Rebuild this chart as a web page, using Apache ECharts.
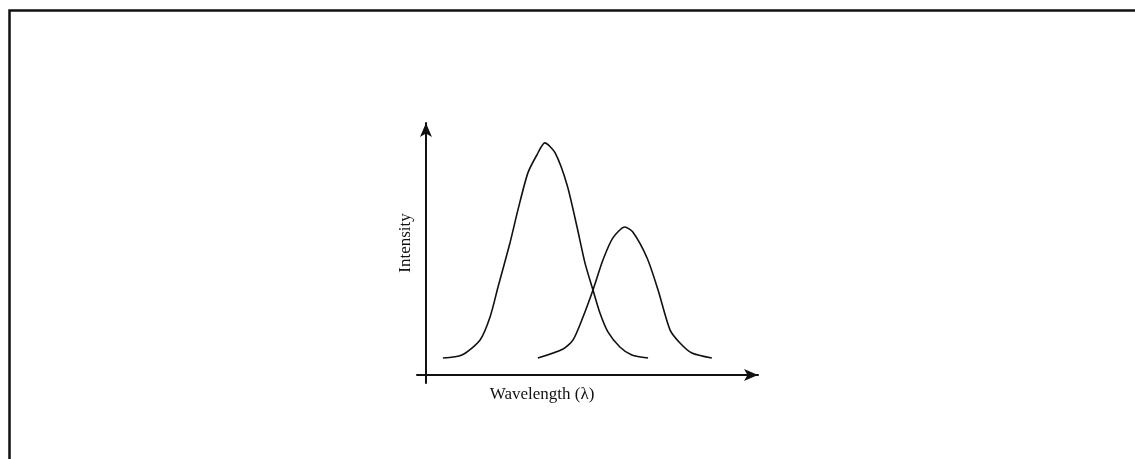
<!DOCTYPE html>
<html>
<head>
<meta charset="utf-8">
<style>
  html, body { margin: 0; padding: 0; background: #fff; }
  #chart { width: 1135px; height: 459px; }
</style>
<script src="https://cdn.jsdelivr.net/npm/echarts@6/dist/echarts.min.js"></script>
</head>
<body>
<div id="chart"></div>
<script>
// Emission bands: [wavelength, intensity] in arbitrary units
const bandA = [
  [5.1, 6.7], [10.8, 7.9], [16.3, 13.9], [19.3, 23.0], [21.7, 34.9],
  [25.3, 52.4], [27.7, 65.5], [30.7, 80.2], [33.4, 87.3], [35.8, 92.1],
  [38.9, 88.1], [42.5, 75.4], [45.5, 58.7], [47.9, 44.4], [50.3, 33.7],
  [52.4, 24.6], [54.8, 17.1], [58.4, 11.1], [62.0, 7.9], [66.9, 6.7]
];
const bandB = [
  [33.7, 6.7], [41.3, 10.3], [44.3, 13.9], [47.3, 23.0], [50.3, 33.7],
  [53.3, 45.6], [56.3, 54.4], [59.9, 58.7], [62.3, 56.7], [66.6, 46.4],
  [69.9, 33.7], [73.5, 17.9], [76.5, 12.7], [80.1, 8.7], [86.1, 6.7]
];
const xTitle = 'Wavelength (\u03bb)';
const yTitle = 'Intensity';

const ink = '#111';
const serif = '"Liberation Serif", "DejaVu Serif", serif';

const chart = echarts.init(document.getElementById('chart'), null, { renderer: 'canvas' });

const bandSeries = (data) => ({
  type: 'line',
  data: data,
  smooth: 0.25,
  showSymbol: false,
  symbol: 'none',
  lineStyle: { color: ink, width: 1.6 },
  silent: true
});

const axisCommon = {
  type: 'value',
  axisLine: {
    show: true,
    onZero: true,
    symbol: ['none', 'arrow'],
    symbolSize: [9, 14],
    lineStyle: { color: ink, width: 2 }
  },
  axisTick: { show: false },
  axisLabel: { show: false },
  splitLine: { show: false }
};

chart.setOption({
  animation: false,
  backgroundColor: '#fff',
  grid: { left: 417, top: 123, width: 341, height: 260 },
  xAxis: Object.assign({}, axisCommon, { min: -2.7, max: 100 }),
  yAxis: Object.assign({}, axisCommon, { min: -3.2, max: 100 }),
  graphic: [
    {
      type: 'polyline',
      shape: { points: [[9.5, 459], [9.5, 10.5], [1135, 10.5]] },
      style: { stroke: ink, lineWidth: 2.5, fill: null },
      silent: true
    },
    {
      type: 'text',
      x: 406, y: 243,
      rotation: Math.PI / 2,
      style: {
        text: yTitle, fill: ink, font: '17px ' + serif,
        align: 'center', verticalAlign: 'middle'
      }
    },
    {
      type: 'text',
      x: 542, y: 395,
      style: {
        text: xTitle, fill: ink, font: '17px ' + serif,
        align: 'center', verticalAlign: 'middle'
      }
    }
  ],
  series: [bandSeries(bandA), bandSeries(bandB)]
});
</script>
</body>
</html>
